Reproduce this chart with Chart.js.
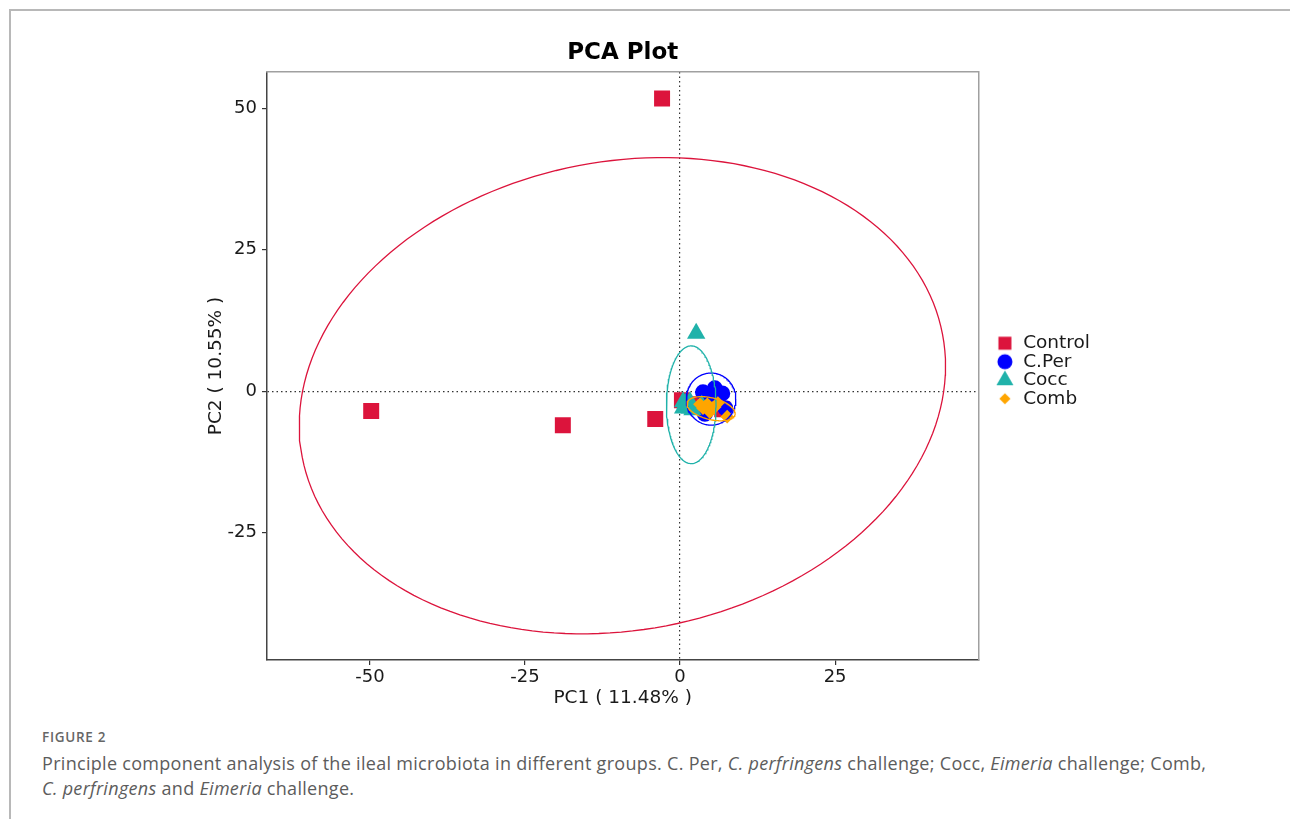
<!DOCTYPE html>
<html>
<head>
<meta charset="utf-8">
<title>PCA Plot</title>
<script src="https://cdn.jsdelivr.net/npm/chart.js@4.4.1/dist/chart.umd.min.js"></script>
<style>
  html, body { margin: 0; padding: 0; background: #ffffff; }
  body { width: 1290px; height: 819px; position: relative; overflow: hidden; }
  #frameTop { position: absolute; left: 9px; top: 9px; width: 1281px; height: 0; border-top: 2px solid #b8b8b8; }
  #frameLeft { position: absolute; left: 9px; top: 9px; width: 0; height: 810px; border-left: 2px solid #b8b8b8; }
  #chart { position: absolute; left: 0; top: 0; }
  .caption { position: absolute; left: 42px; top: 727px; font-family: "Open Sans", sans-serif; color: #5c5c5c; }
  .caption .fig { font-size: 13.5px; font-weight: 600; letter-spacing: 0.7px; color: #666666; line-height: 20px; }
  .caption .text { font-size: 18px; letter-spacing: 0.3px; line-height: 25px; margin-top: 3.5px; }
</style>
</head>
<body>
<div id="frameTop"></div>
<div id="frameLeft"></div>
<canvas id="chart" width="1290" height="720"></canvas>
<div class="caption">
  <div class="fig">FIGURE 2</div>
  <div class="text">Principle component analysis of the ileal microbiota in different groups. C. Per, <i>C. perfringens</i> challenge; Cocc, <i>Eimeria</i> challenge; Comb,<br><i>C. perfringens</i> and <i>Eimeria</i> challenge.</div>
</div>
<script>
// Groups and their sample scores on the first two principal components
const groups = ['Control', 'C.Per', 'Cocc', 'Comb'];
const groupColors = ['#DC143C', '#0000FF', '#20B2AA', '#FFA500'];
const groupShapes = ['rect', 'circle', 'triangle', 'rectRot'];
const groupRadius = [11.3, 8, 10.6, 6.8];

const controlPC1 = [-2.9, -49.8, -18.9, -4.0, 0.3, 2.0, 4.5, 6.8];
const controlPC2 = [51.7, -3.5, -6.0, -4.9, -1.6, -2.3, -2.0, -3.2];
const cperPC1 = [3.7, 5.6, 6.8, 4.0, 7.3, 4.8, 4.2, 5.8];
const cperPC2 = [-0.2, 0.5, -0.4, -4.0, -3.0, -1.6, -2.5, -1.9];
const coccPC1 = [2.6, 0.5, 0.5, 1.6, 2.0, 0.9, 3.5, 1.6];
const coccPC2 = [10.2, -1.9, -3.0, -3.0, -3.3, -2.2, -2.5, -1.9];
const combPC1 = [4.4, 5.2, 6.1, 3.7, 7.6, 4.8, 3.2, 5.6];
const combPC2 = [-2.3, -3.0, -2.1, -3.0, -4.5, -3.7, -2.3, -2.8];

// 95% confidence ellipses: centre, semi-axes and rotation (degrees)
const ellipseCenterX = [-9.3, 5.0, 1.8, 5.0];
const ellipseCenterY = [-0.8, -1.4, -2.4, -3.1];
const ellipseSemiA = [52.8, 4.0, 4.0, 4.0];
const ellipseSemiB = [41.2, 4.6, 10.4, 1.9];
const ellipseAngle = [15, 0, 0, -16];

// Axis ranges and tick labels
const pc1Range = [-66.6, 48.1];
const pc2Range = [-47.5, 56.4];
const pc1Ticks = [-50, -25, 0, 25];
const pc2Ticks = [-25, 0, 25, 50];
const pc1Title = 'PC1 ( 11.48% )';
const pc2Title = 'PC2 ( 10.55% )';
const chartTitle = 'PCA Plot';

const FONT = "'DejaVu Sans', sans-serif";
Chart.defaults.font.family = FONT;
Chart.defaults.color = '#1a1a1a';

const pcx = [controlPC1, cperPC1, coccPC1, combPC1];
const pcy = [controlPC2, cperPC2, coccPC2, combPC2];

function toPoints(xs, ys) {
  return xs.map((x, i) => ({ x: x, y: ys[i] }));
}

function ellipsePath(i) {
  const pts = [];
  const th = ellipseAngle[i] * Math.PI / 180;
  const c = Math.cos(th), s = Math.sin(th);
  for (let k = 0; k <= 180; k++) {
    const t = k / 180 * 2 * Math.PI;
    const u = ellipseSemiA[i] * Math.cos(t);
    const v = ellipseSemiB[i] * Math.sin(t);
    pts.push({ x: ellipseCenterX[i] + u * c - v * s, y: ellipseCenterY[i] + u * s + v * c });
  }
  return pts;
}

// Small marker images for the legend keys
const legendMarkerRadius = [9.2, 7.5, 9.8, 5.6];
function makeMarker(i) {
  const cv = document.createElement('canvas');
  cv.width = 24; cv.height = 24;
  const ctx = cv.getContext('2d');
  ctx.fillStyle = groupColors[i];
  ctx.strokeStyle = groupColors[i];
  const opts = { pointStyle: groupShapes[i], radius: legendMarkerRadius[i], rotation: 0, borderWidth: 0 };
  if (Chart.helpers && Chart.helpers.drawPoint) {
    Chart.helpers.drawPoint(ctx, opts, 12, 12);
  } else {
    ctx.beginPath();
    ctx.arc(12, 12, legendMarkerRadius[i], 0, Math.PI * 2);
    ctx.fill();
  }
  return cv;
}
const legendMarkers = groups.map((g, i) => makeMarker(i));

const pointSets = groups.map((g, i) => ({
  label: g,
  data: toPoints(pcx[i], pcy[i]),
  backgroundColor: groupColors[i],
  borderColor: groupColors[i],
  pointStyle: groupShapes[i],
  pointRadius: groupRadius[i],
  pointBorderWidth: 0,
  showLine: false,
  order: 8 - i
}));

const ellipseSets = groups.map((g, i) => ({
  label: g + ' ellipse',
  data: ellipsePath(i),
  borderColor: groupColors[i],
  backgroundColor: 'transparent',
  borderWidth: 1.3,
  pointRadius: 0,
  showLine: true,
  fill: false,
  tension: 0,
  order: 4 - i
}));

const zeroLine = (ctx) => (ctx.tick && ctx.tick.value === 0) ? '#333333' : 'rgba(0,0,0,0)';

new Chart(document.getElementById('chart'), {
  type: 'scatter',
  data: { datasets: pointSets.concat(ellipseSets) },
  options: {
    responsive: false,
    animation: false,
    events: [],
    layout: { padding: { left: 196, right: 190, top: 0, bottom: 10 } },
    scales: {
      x: {
        type: 'linear', position: 'bottom',
        min: pc1Range[0], max: pc1Range[1],
        afterBuildTicks: (s) => { s.ticks = pc1Ticks.map(v => ({ value: v })); },
        afterFit: (s) => { s.height = 50; },
        ticks: { font: { size: 18 }, color: '#1a1a1a', padding: 1.5, callback: (v) => String(v) },
        grid: { color: zeroLine, lineWidth: 1.2, tickColor: '#333333', tickLength: 5, tickWidth: 1.2 },
        border: { color: '#444444', width: 1.5, dash: [1.5, 3] },
        title: { display: true, text: pc1Title, font: { size: 18.5 }, color: '#1a1a1a', padding: { top: 0, bottom: 1.2 } }
      },
      y: {
        type: 'linear', position: 'left',
        min: pc2Range[0], max: pc2Range[1],
        afterBuildTicks: (s) => { s.ticks = pc2Ticks.map(v => ({ value: v })); },
        afterFit: (s) => { s.width = 71; },
        ticks: { font: { size: 18 }, color: '#1a1a1a', padding: 5, callback: (v) => String(v) },
        grid: { color: zeroLine, lineWidth: 1.2, tickColor: '#333333', tickLength: 5, tickWidth: 1.2 },
        border: { color: '#444444', width: 1.5, dash: [1.5, 3] },
        title: { display: true, text: pc2Title, font: { size: 18.5 }, color: '#1a1a1a', padding: { top: 8.9, bottom: 0 } }
      },
      x2: {
        type: 'linear', position: 'top', display: true,
        min: pc1Range[0], max: pc1Range[1],
        afterFit: (s) => { s.height = 0; },
        ticks: { display: false },
        grid: { display: false, drawTicks: false },
        border: { display: true, color: '#a0a0a0', width: 1.5 }
      },
      y2: {
        type: 'linear', position: 'right', display: true,
        min: pc2Range[0], max: pc2Range[1],
        afterFit: (s) => { s.width = 17.5; },
        ticks: { display: false },
        grid: { display: false, drawTicks: false },
        border: { display: true, color: '#a0a0a0', width: 1.5 }
      }
    },
    plugins: {
      title: {
        display: true, text: chartTitle, fullSize: false,
        font: { size: 23, weight: 'bold' }, color: '#000000',
        padding: { top: 39, bottom: 5.4 }
      },
      legend: {
        display: true, position: 'right', align: 'center', fullSize: false,
        title: { display: true, text: '', padding: 0, font: { size: 10, lineHeight: 1 } },
        labels: {
          font: { size: 18.5, lineHeight: 1 }, color: '#1a1a1a',
          usePointStyle: true, boxWidth: 18, boxHeight: 18, padding: 0,
          filter: (item) => item.datasetIndex < groups.length,
          sort: (a, b) => a.datasetIndex - b.datasetIndex,
          generateLabels: (chart) => {
            const items = Chart.defaults.plugins.legend.labels.generateLabels(chart);
            items.forEach((it) => {
              if (it.datasetIndex < groups.length) it.pointStyle = legendMarkers[it.datasetIndex];
            });
            return items;
          }
        }
      },
      tooltip: { enabled: false }
    }
  }
});
</script>
</body>
</html>
